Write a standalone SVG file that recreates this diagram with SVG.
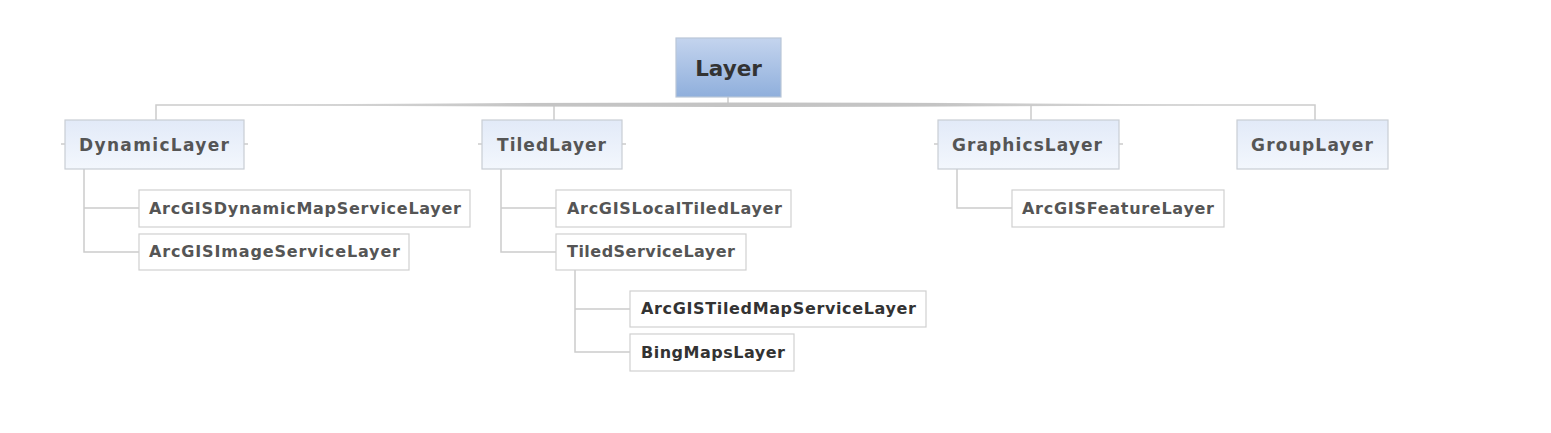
<svg xmlns="http://www.w3.org/2000/svg" width="1551" height="433" viewBox="0 0 1551 433">
<defs>
<linearGradient id="gRoot" x1="0" y1="0" x2="0" y2="1">
<stop offset="0" stop-color="#c4d4ee"/>
<stop offset="1" stop-color="#8fafdc"/>
</linearGradient>
<linearGradient id="gL1" x1="0" y1="0" x2="0" y2="1">
<stop offset="0" stop-color="#e2eaf8"/>
<stop offset="1" stop-color="#f3f7fd"/>
</linearGradient>
<linearGradient id="gBus" x1="0" y1="0" x2="1" y2="0">
<stop offset="0" stop-color="#cccccc" stop-opacity="0"/>
<stop offset="0.3" stop-color="#c4c4c4" stop-opacity="1"/>
<stop offset="0.7" stop-color="#c4c4c4" stop-opacity="1"/>
<stop offset="1" stop-color="#cccccc" stop-opacity="0"/>
</linearGradient>
</defs>
<style>
text{font-family:"DejaVu Sans","Verdana",sans-serif;font-weight:bold;}
.root rect{fill:url(#gRoot);stroke:#b9c6d8;stroke-width:1.2;}
.root text{font-size:21.5px;fill:#333;text-anchor:middle;}
.l1 rect{fill:url(#gL1);stroke:#c9cdd4;stroke-width:1.2;}
.l1 text{font-size:17px;fill:#555;}
.l2 rect{fill:#fff;stroke:#d0d0d0;stroke-width:1.2;}
.l2 text{font-size:16px;fill:#555;}
.l3 text{fill:#333;}
.c{fill:none;stroke:#cccccc;stroke-width:1.5;}
</style>
<rect width="1551" height="433" fill="#ffffff"/>
<g id="connectors">
<path class="c" d="M728,97 V105 M156,120 V105 H1315 V120 M554,105 V120 M1031,105 V120"/>
<path d="M230,105 Q728,100 1235,105 Q728,109 230,105 Z" fill="url(#gBus)"/>
<path class="c" d="M61,144 H65 M244,144 H248 M478,144 H482 M622,144 H626 M934,144 H938 M1119,144 H1123"/>
<path class="c" d="M84,169 V252 H139 M84,208 H139"/>
<path class="c" d="M501,169 V252 H556 M501,208 H556"/>
<path class="c" d="M575,270 V352 H630 M575,309 H630"/>
<path class="c" d="M957,169 V208 H1012"/>
</g>
<g id="node-layer" class="root">
<rect x="676" y="38" width="105" height="59"/>
<text x="728.5" y="76">Layer</text>
</g>
<g id="node-dynamiclayer" class="l1">
<rect x="65" y="120" width="179" height="49"/>
<text x="79" y="150.5" textLength="150" lengthAdjust="spacing">DynamicLayer</text>
</g>
<g id="node-tiledlayer" class="l1">
<rect x="482" y="120" width="140" height="49"/>
<text x="497" y="150.5" textLength="109" lengthAdjust="spacing">TiledLayer</text>
</g>
<g id="node-graphicslayer" class="l1">
<rect x="938" y="120" width="181" height="49"/>
<text x="952" y="150.5" textLength="150" lengthAdjust="spacing">GraphicsLayer</text>
</g>
<g id="node-grouplayer" class="l1">
<rect x="1237" y="120" width="151" height="49"/>
<text x="1251" y="150.5" textLength="122" lengthAdjust="spacing">GroupLayer</text>
</g>
<g id="node-arcgisdynamicmapservicelayer" class="l2">
<rect x="139" y="190" width="331" height="37"/>
<text x="149" y="213.5" textLength="312" lengthAdjust="spacing">ArcGISDynamicMapServiceLayer</text>
</g>
<g id="node-arcgisimageservicelayer" class="l2">
<rect x="139" y="234" width="270" height="36"/>
<text x="149" y="257" textLength="251" lengthAdjust="spacing">ArcGISImageServiceLayer</text>
</g>
<g id="node-arcgislocaltiledlayer" class="l2">
<rect x="556" y="190" width="235" height="37"/>
<text x="567" y="213.5" textLength="215" lengthAdjust="spacing">ArcGISLocalTiledLayer</text>
</g>
<g id="node-tiledservicelayer" class="l2">
<rect x="556" y="234" width="190" height="36"/>
<text x="567" y="257" textLength="168" lengthAdjust="spacing">TiledServiceLayer</text>
</g>
<g id="node-arcgistiledmapservicelayer" class="l2 l3">
<rect x="630" y="291" width="296" height="36"/>
<text x="641" y="314" textLength="275" lengthAdjust="spacing">ArcGISTiledMapServiceLayer</text>
</g>
<g id="node-bingmapslayer" class="l2 l3">
<rect x="630" y="334" width="164" height="37"/>
<text x="641" y="357.5" textLength="144" lengthAdjust="spacing">BingMapsLayer</text>
</g>
<g id="node-arcgisfeaturelayer" class="l2">
<rect x="1012" y="190" width="212" height="37"/>
<text x="1022" y="213.5" textLength="192" lengthAdjust="spacing">ArcGISFeatureLayer</text>
</g>
</svg>
